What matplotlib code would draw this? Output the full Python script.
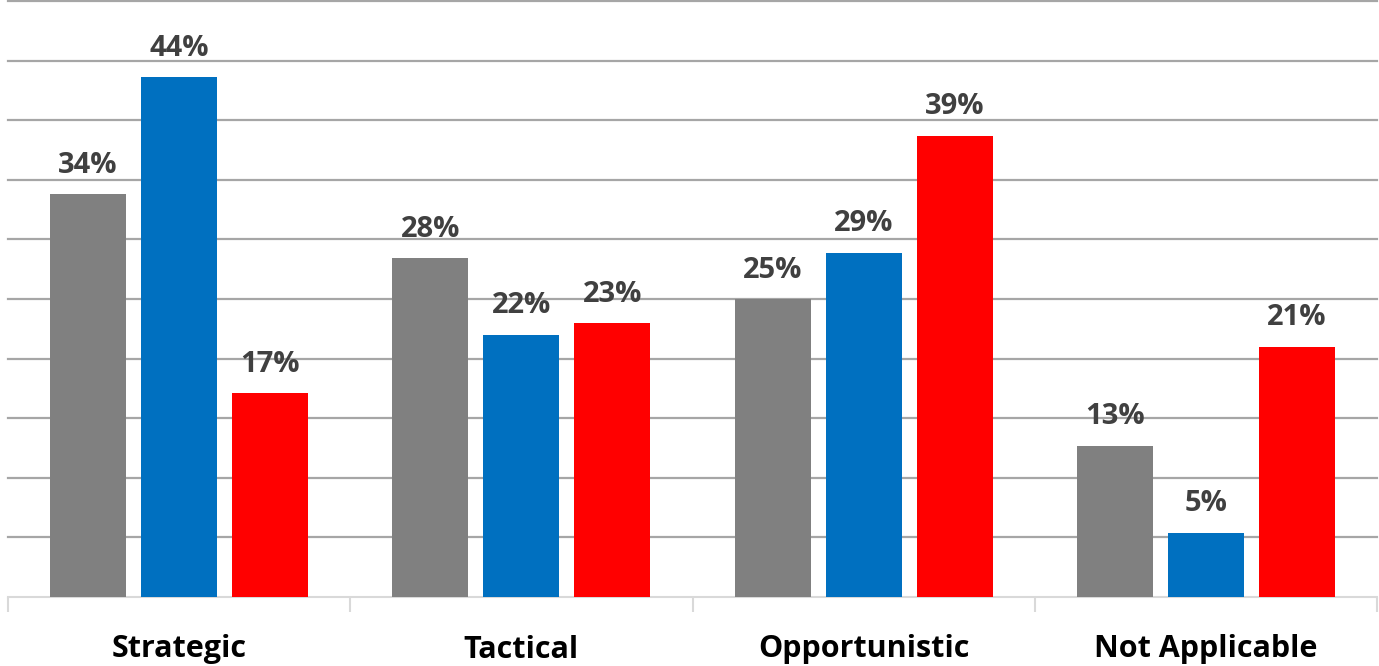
import matplotlib
matplotlib.use("Agg")
import matplotlib.pyplot as plt
import numpy as np

categories = ["Strategic", "Tactical", "Opportunistic", "Not Applicable"]
series_gray = [33.8, 28.4, 25.0, 12.7]
series_blue = [43.6, 22.0, 28.9, 5.4]
series_red = [17.1, 23.0, 38.7, 21.0]
colors = ["#808080", "#0070C0", "#FF0000"]

W, H = 1379, 666
fig = plt.figure(figsize=(W/100, H/100), dpi=100)
ax = fig.add_axes([8/W, 1-597/H, 1369/W, 596/H])

x = np.arange(len(categories))
bw = 0.222
off = 0.266
for i, (vals, c) in enumerate(zip([series_gray, series_blue, series_red], colors)):
    pos = x + (i-1)*off
    bars = ax.bar(pos, vals, width=bw, color=c, zorder=3)
    for p, v in zip(pos, vals):
        ax.text(p, v + 1.2, f"{v:.0f}%", ha="center", va="bottom",
                fontsize=21, fontweight="bold", color="#404040",
                family="Open Sans", zorder=4)

ax.set_xlim(-0.5, 3.5)
ax.set_ylim(0, 50)
for y in np.arange(5, 51, 5):
    ax.axhline(y, color="#a6a6a6", lw=1.6, zorder=1, clip_on=False)
for s in ["top", "right", "left"]:
    ax.spines[s].set_visible(False)
ax.spines["bottom"].set_color("#d9d9d9")
ax.spines["bottom"].set_linewidth(1.5)
ax.set_yticks([])
ax.set_xticks(x)
ax.set_xticklabels(categories, fontsize=22, fontweight="bold", family="Open Sans", color="black")
ax.tick_params(axis="x", which="major", length=0, pad=27)
ax.set_xticks(np.arange(-0.5, 3.6, 1), minor=True)
ax.tick_params(axis="x", which="minor", length=11, width=1.5, color="#d9d9d9")

fig.savefig("out.png", dpi=100)
